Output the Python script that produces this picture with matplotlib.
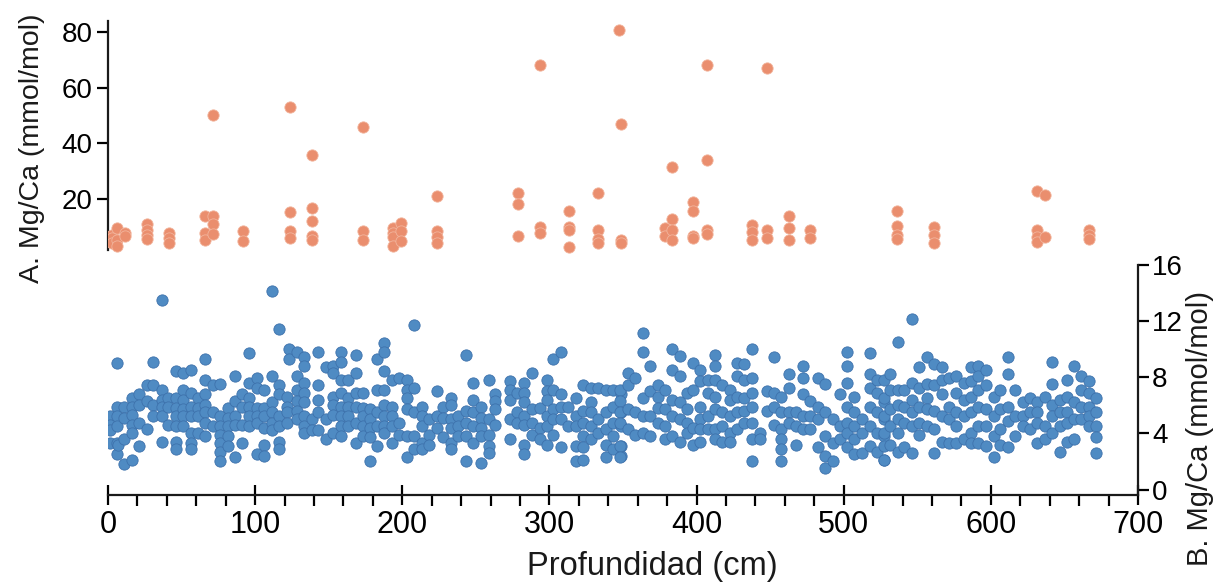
import matplotlib
matplotlib.use("Agg")
import matplotlib.pyplot as plt
from matplotlib.ticker import MultipleLocator

# A. Mg/Ca (mmol/mol), orange series: depth (cm) -> values at that depth
mg_a_depth = [3.0, 6.0, 11.5, 26.5, 41.5, 66.0, 71.5, 91.5, 124.0, 138.5,
              173.5, 194.0, 199.0, 223.5, 278.5, 293.5, 313.5, 333.0, 347.0,
              348.5, 378.5, 383.5, 397.5, 407.0, 437.5, 448.0, 462.5, 477.0,
              536.5, 561.5, 631.5, 637.0, 667.0]
mg_a_vals = [
    [7.1, 5.8, 4.3], [9.6, 5.4, 3.2], [7.8, 6.5], [11.0, 9.0, 7.0, 5.6],
    [7.8, 6.0, 4.3], [14.0, 7.8, 5.4], [50.3, 14.0, 11.0, 7.5], [8.6, 5.0],
    [53.0, 15.2, 8.6, 6.0], [35.7, 16.7, 11.9, 6.8, 5.1], [46.0, 8.3, 5.1],
    [9.6, 7.8, 6.3, 3.0], [11.4, 8.3, 4.8], [21.0, 8.3, 6.3, 4.2],
    [22.3, 18.3, 6.8], [68.2, 10.0, 7.8], [15.5, 10.0, 9.0, 2.6],
    [22.0, 8.9, 5.6, 4.0], [80.7], [46.8, 5.3, 4.2], [9.6, 6.5],
    [31.5, 12.8, 9.0, 5.4], [19.0, 15.8, 6.8, 6.0], [68.2, 34.0, 9.0, 7.4],
    [10.5, 8.1, 5.4], [67.0, 9.0, 5.8], [13.7, 9.5, 5.4], [9.0, 5.8],
    [15.8, 10.4, 7.1, 5.6], [9.9, 7.1, 4.2], [22.9, 9.0, 6.3, 4.4],
    [21.4, 6.3], [9.0, 7.1, 5.6],
]

# B. Mg/Ca (mmol/mol), blue series
mg_b_depth = [1.4, 5.9, 7.0, 10.9, 16.1, 21.3, 26.3, 30.8, 36.5, 41.0, 46.2,
              51.2, 56.2, 61.4, 66.2, 71.6, 76.1, 81.4, 86.3, 90.9, 96.1,
              101.1, 106.3, 111.3, 116.5, 121.5, 123.3, 128.3, 133.2, 138.5,
              143.0, 148.2, 153.2, 158.2, 163.4, 168.4,
              173.6, 178.1, 183.1, 187.6, 192.8, 198.0, 203.0, 208.0, 213.2,
              218.4, 223.4, 228.0, 232.9, 238.1, 243.4, 248.3, 253.3, 259.2,
              263.1, 273.3, 277.8, 283.0, 288.0, 293.7, 298.6, 302.7, 308.2,
              312.9, 318.1, 323.1, 328.1, 333.3, 338.5, 343.5, 348.5,
              348.1, 353.1, 358.3, 363.5, 368.5, 373.5, 378.7, 383.2, 388.4,
              393.4, 397.5, 402.5, 407.5, 412.7, 417.2, 422.4, 427.4, 432.4,
              437.6, 442.8, 447.8, 452.3, 457.5, 462.5, 467.5, 472.3, 477.3,
              482.5, 487.5, 492.7, 497.7, 502.2, 507.2, 512.4, 517.6, 522.6,
              527.1,
              527.1, 531.6, 536.6, 541.1, 546.3, 551.5, 556.5, 561.5, 566.7,
              571.7, 576.5, 581.5, 586.4, 591.6, 596.9, 601.8, 606.4, 611.4,
              616.6, 621.8, 626.8, 631.3, 636.5, 641.5, 646.7, 651.7, 656.2,
              661.2, 666.4, 671.6]
mg_b_vals = [
    [5.2, 4.6, 4.2, 3.3], [9.0, 5.9, 5.2, 4.5, 3.3, 2.5], [3.2],
    [5.9, 5.1, 3.6, 1.8], [6.5, 5.9, 5.3, 4.6, 4.0, 2.1], [6.8, 6.0, 4.7, 3.1],
    [7.4, 6.3, 4.3], [9.1, 7.4, 6.0, 5.2], [13.5, 7.1, 6.4, 5.9, 5.2, 3.4],
    [6.5, 5.9, 4.6], [8.4, 6.5, 5.8, 5.2, 4.5, 3.4, 2.9],
    [8.3, 7.1, 6.4, 5.7, 5.2, 4.5], [8.5, 6.9, 5.9, 5.2, 4.0, 3.3, 2.9],
    [6.5, 5.8, 5.2, 4.0], [9.3, 7.8, 6.8, 6.0, 5.5, 4.7, 3.8], [7.4, 5.5, 4.5],
    [7.5, 5.2, 4.5, 3.9, 3.3, 2.7, 2.0], [5.8, 5.1, 4.5, 3.8, 3.1],
    [8.1, 6.3, 5.2, 4.6, 2.3], [6.8, 5.9, 4.6, 3.3],
    [9.7, 7.6, 6.5, 5.9, 5.2, 4.5], [7.9, 7.2, 5.8, 5.2, 4.7, 2.5],
    [7.1, 5.8, 5.2, 4.4, 3.2, 2.4], [14.1, 8.1, 6.2, 5.5, 4.7, 4.2],
    [11.4, 7.4, 6.8, 5.2, 4.5, 3.4, 2.9], [6.6, 5.9, 5.5, 4.7], [10.0, 9.3],
    [9.8, 8.1, 7.1, 6.3, 5.6, 5.0], [9.4, 8.8, 7.6, 6.9, 6.2, 5.2, 4.5, 4.0],
    [5.0, 4.2], [9.8, 7.4, 6.4, 5.5, 4.2], [8.7, 5.0, 3.6],
    [8.8, 8.3, 6.6, 6.0, 5.3, 4.0], [9.8, 9.1, 7.8, 6.9, 5.9, 5.2, 4.5, 3.8],
    [7.8, 6.5, 5.9, 5.2, 4.5], [9.6, 8.3, 6.9, 5.9, 4.7, 3.3],
    [6.9, 5.8, 5.2, 4.5, 3.8], [5.7, 5.0, 4.4, 3.7, 2.0],
    [9.3, 7.1, 5.5, 4.5, 3.1], [10.4, 9.8, 8.4, 7.1, 6.0, 5.2, 4.5, 4.0],
    [7.8, 5.9, 5.2, 4.5, 3.3], [7.9, 4.7, 3.9], [7.8, 7.1, 6.5, 5.7, 3.8, 2.3],
    [11.7, 7.2, 5.5, 3.8, 2.9], [5.9, 5.2, 4.5, 3.3, 2.9], [5.0, 3.9, 3.2],
    [7.0, 5.2, 4.4], [5.9, 5.1, 3.7], [6.5, 6.0, 5.0, 4.4, 3.3, 2.9],
    [5.2, 4.5, 3.8], [9.6, 5.6, 4.7, 3.8, 2.0], [7.6, 6.4, 5.5, 4.5, 3.3],
    [5.9, 5.1, 4.4, 3.8, 1.9], [7.8, 5.0, 3.9, 3.1, 2.6], [6.8, 6.3, 5.7, 4.6],
    [7.7, 7.1, 6.4, 5.0, 3.6], [6.9, 5.5, 4.7],
    [7.6, 6.9, 6.2, 5.2, 4.6, 3.2, 2.5], [8.3, 5.7, 4.7, 3.9], [5.8, 4.4, 3.6],
    [7.8, 7.0, 6.4, 5.2, 4.5, 3.2], [9.3, 7.1, 5.7, 5.0, 3.9],
    [9.8, 6.8, 5.9, 5.0, 3.0], [5.9, 4.5], [6.5, 5.2, 4.5, 3.1, 2.0],
    [7.4, 5.6, 4.7, 3.8, 3.0, 2.1], [7.2, 6.2, 5.5, 4.5, 3.6], [7.2, 5.0, 4.0],
    [7.1, 5.5, 4.3, 3.2, 2.3], [7.1, 5.9, 4.7, 3.8, 2.9],
    [6.8, 5.5, 4.5, 3.1, 2.4],
    [7.1, 6.3, 5.5, 4.7, 3.1, 2.3], [8.3, 7.4, 5.7, 4.3], [7.9, 5.5, 3.9],
    [11.1, 9.8, 6.5, 5.2, 4.0], [8.8, 7.0, 5.2, 3.8], [7.4, 6.6, 5.8, 4.7],
    [7.1, 5.7, 4.5, 3.6], [10.0, 8.5, 6.4, 5.2, 3.8], [9.5, 8.1, 6.2, 5.0, 3.4],
    [6.9, 5.7, 4.7, 4.0], [9.0, 7.1, 4.4, 3.2], [8.5, 7.7, 5.9, 5.0, 4.3, 3.4],
    [7.8, 6.9, 5.2, 4.3], [9.6, 8.8, 7.8, 6.6, 5.7, 4.3, 3.6],
    [7.4, 5.5, 4.5, 3.4], [7.1, 6.4, 5.2, 4.0, 3.4], [9.0, 8.1, 6.6, 5.5, 4.3],
    [8.9, 7.8, 6.5, 5.6, 4.7], [10.0, 7.9, 6.9, 5.9, 4.7, 3.6, 2.0],
    [4.0, 3.6], [7.0, 5.6], [9.4, 6.9, 5.9, 4.6],
    [6.6, 5.5, 4.3, 3.6, 2.9, 2.0], [8.2, 7.2, 5.5, 4.7], [5.5, 4.5, 3.2],
    [8.8, 7.9, 6.8, 5.2, 4.3], [6.3, 5.2, 4.3], [7.9, 5.9, 5.0, 3.0],
    [7.5, 5.5, 3.8, 2.4, 1.5], [5.0, 3.3, 2.0], [6.8, 4.5, 3.6],
    [9.8, 8.8, 7.6, 5.9, 4.7, 4.0, 3.0], [6.6, 5.5, 4.5, 3.6, 2.5],
    [5.0, 4.0, 2.6], [9.7, 8.2, 7.2, 5.9, 4.5, 3.1], [7.8, 6.9, 5.5, 4.0, 2.7],
    [6.2, 5.0, 3.8, 2.1],
    [7.8, 6.5, 5.2, 4.0, 3.1, 2.1], [8.2, 7.1, 5.7, 4.5, 3.2],
    [10.5, 7.1, 6.0, 5.0, 4.0, 2.7], [7.1, 5.9, 4.7, 3.0],
    [12.1, 7.6, 6.4, 5.5, 4.5, 2.6], [8.7, 7.2, 5.9, 4.7, 3.9],
    [9.4, 7.5, 6.5, 5.7, 4.5], [8.9, 7.4, 5.6, 4.3, 2.6],
    [8.7, 7.8, 6.8, 5.2, 3.4], [7.9, 5.9, 5.0, 3.3], [8.1, 6.9, 5.5, 4.5, 3.3],
    [7.6, 6.4, 5.2, 3.6], [8.7, 7.7, 6.6, 5.5, 4.0, 3.3],
    [8.8, 8.1, 7.1, 5.9, 4.5, 3.3], [8.5, 7.4, 5.7, 4.5, 3.1],
    [6.6, 5.2, 3.8, 2.3], [7.1, 5.7, 4.3, 3.2], [9.4, 8.2, 5.9, 4.9, 3.0],
    [7.1, 5.2, 3.8], [6.2, 5.2, 4.5], [6.5, 5.5, 4.3], [6.2, 5.5, 4.7, 3.3],
    [6.6, 4.5, 3.6], [9.1, 7.5, 6.0, 5.2, 4.0], [6.4, 5.5, 4.5, 2.7],
    [7.8, 6.6, 5.5, 4.7, 3.4], [8.8, 6.2, 5.0, 3.6], [8.1, 7.1, 5.9, 5.0],
    [7.7, 6.9, 5.9, 5.2, 4.5], [6.5, 5.5, 4.5, 3.7, 2.6],
]


def flatten(depths, groups):
    xs, ys = [], []
    for d, vals in zip(depths, groups):
        for v in vals:
            xs.append(d)
            ys.append(v)
    return xs, ys


xa, ya = flatten(mg_a_depth, mg_a_vals)
xb, yb = flatten(mg_b_depth, mg_b_vals)

W, H = 1218, 584
fig = plt.figure(figsize=(W / 100, H / 100), dpi=100)
rect = [108 / W, (H - 495) / H, 1030 / W, 480 / H]

ax_b = fig.add_axes(rect)
ax_a = ax_b.twinx()

# blue series on the right-hand axis
ax_b.scatter(xb, yb, s=66, color="#4F8BC3", edgecolors="#3E72AC",
             linewidths=0.6, zorder=3)
ax_b.set_xlim(0, 700)
ax_b.set_ylim(-0.39, 33.75)
ax_b.yaxis.tick_right()
ax_b.set_yticks([0, 4, 8, 12, 16])
for s in ("top", "left"):
    ax_b.spines[s].set_visible(False)
ax_b.spines["right"].set_bounds(-0.39, 16)
ax_b.spines["bottom"].set_bounds(0, 700)
ax_b.xaxis.set_major_locator(MultipleLocator(100))
ax_b.xaxis.set_minor_locator(MultipleLocator(20))

# orange series on the left-hand axis
ax_a.scatter(xa, ya, s=66, color="#EA8E6E", edgecolors="#F2B49C",
             linewidths=0.6, zorder=3)
ax_a.set_ylim(-86.4, 86.1)
ax_a.yaxis.tick_left()
ax_a.set_yticks([20, 40, 60, 80])
for s in ("top", "right", "bottom"):
    ax_a.spines[s].set_visible(False)
ax_a.spines["left"].set_bounds(1.7, 84)

for sp in (ax_b.spines["bottom"], ax_b.spines["right"], ax_a.spines["left"]):
    sp.set_linewidth(1.6)
    sp.set_color("#1a1a1a")

tick_font = ["Liberation Sans", "DejaVu Sans"]

ax_b.tick_params(axis="x", which="major", direction="inout", length=14,
                 width=1.6, pad=4, labelsize=22)
ax_b.tick_params(axis="x", which="minor", direction="out", length=8,
                 width=1.6)
ax_b.tick_params(axis="y", which="major", direction="out", length=8,
                 width=1.6, pad=2, labelsize=20)
ax_a.tick_params(axis="y", which="major", direction="out", length=8,
                 width=1.6, pad=3, labelsize=20)

for lab in (ax_b.get_xticklabels() + ax_b.get_yticklabels()
            + ax_a.get_yticklabels()):
    lab.set_family(tick_font)

fig.text(652 / W, 1 - 566 / H, "Profundidad (cm)", ha="center", va="center",
         fontsize=23.5, family=tick_font, color="#1a1a1a")
fig.text(32 / W, 1 - 148 / H, "A. Mg/Ca (mmol/mol)", ha="center",
         va="center", rotation=90, fontsize=20.5, family=tick_font,
         color="#1a1a1a")
fig.text(1200 / W, 1 - 428 / H, "B. Mg/Ca (mmol/mol)", ha="center",
         va="center", rotation=90, fontsize=21, family=tick_font,
         color="#1a1a1a")

fig.savefig("out.png", dpi=100)
